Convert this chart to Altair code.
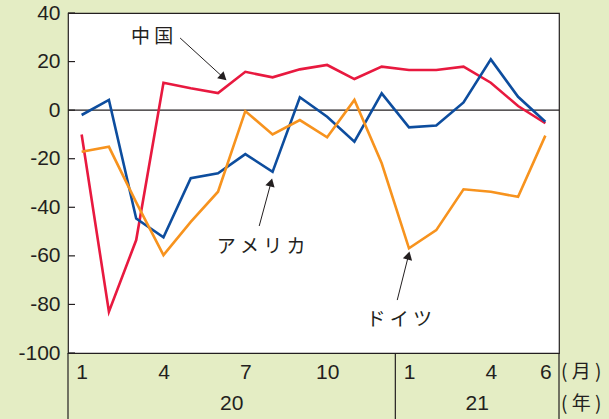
import altair as alt
import pandas as pd

# Monthly series, Jan 2020 .. Jun 2021 (index 0..17)
months = list(range(18))
china = [-10, -83, -53.5, 11.3, 9, 7, 15.8, 13.5, 16.8, 18.6, 12.8, 17.9,
         16.5, 16.5, 17.9, 11.3, 1.7, -5.4]
usa = [-2, 4.2, -44.6, -52.4, -28, -26, -18.1, -25.4, 5.3, -2.7, -13, 6.9,
       -7.1, -6.3, 3.2, 20.9, 5.5, -4.8]
germany = [-17.1, -15.1, -38, -59.7, -46, -33.6, -0.4, -10, -4.1, -11.2, 4.2, -21.9,
           -56.9, -49.4, -32.6, -33.6, -35.7, -10.5]

series_names = ["中国", "アメリカ", "ドイツ"]
series_colors = ["#E8193F", "#0D4D9E", "#F7931E"]

y_ticks = [-100, -80, -60, -40, -20, 0, 20, 40]
month_tick_idx = [0, 3, 6, 9, 12, 15, 17]
year_labels = ["20", "21"]
year_centers = [5.5, 14.5]
year_dividers = [-0.5, 11.5, 17.5]
unit_labels = ["( 月 )", "( 年 )"]

# Annotation labels and arrows (data coordinates)
ann_text = ["中 国", "ア メ リ カ", "ド イ ツ"]
ann_x = [2.58, 6.58, 11.64]
ann_y = [30.1, -56.4, -86.4]
arrow_x0 = [3.61, 6.51, 11.57]
arrow_y0 = [29.7, -47.7, -78.2]
arrow_x1 = [5.16, 6.93, 11.97]
arrow_y1 = [13.8, -30.3, -60.4]
arrow_angle = [132, 15, 14]

BG = "#E4EDC4"
INK = "#231F20"
W, H = 491, 340

rows = []
for name, vals in zip(series_names, [china, usa, germany]):
    for m, v in zip(months, vals):
        rows.append({"m": m, "v": v, "s": name})
df = pd.DataFrame(rows)

xs = alt.Scale(domain=[-0.5, 17.5], nice=False, zero=False)
ys = alt.Scale(domain=[-100, 40], nice=False, zero=False)

lines = alt.Chart(df).mark_line(strokeWidth=2.6, strokeJoin="miter").encode(
    x=alt.X("m:Q", scale=xs,
            axis=alt.Axis(values=month_tick_idx, title=None, ticks=False, domain=False,
                          grid=False, labelFontSize=21, labelColor=INK,
                          labelFont="Liberation Sans", labelPadding=8,
                          labelExpr="datum.value < 12 ? datum.value + 1 : datum.value - 11")),
    y=alt.Y("v:Q", scale=ys,
            axis=alt.Axis(values=y_ticks, title=None, ticks=False, domain=False,
                          grid=False, labelFontSize=21, labelColor=INK,
                          labelFont="Liberation Sans", labelPadding=8,
                          labelExpr="datum.value < 0 ? '-' + abs(datum.value) : '' + datum.value")),
    color=alt.Color("s:N", scale=alt.Scale(domain=series_names, range=series_colors),
                    legend=None),
    detail="s:N",
)

zero_line = alt.Chart(pd.DataFrame({"y": [0]})).mark_rule(
    color=INK, strokeWidth=1.2).encode(y=alt.Y("y:Q", scale=ys))

tick_df = pd.DataFrame({"y": y_ticks})
inner_ticks = alt.Chart(tick_df).mark_rule(color=INK, strokeWidth=1.2).encode(
    y=alt.Y("y:Q", scale=ys), x=alt.value(0), x2=alt.value(7))

div_df = pd.DataFrame({"x": year_dividers})
dividers = alt.Chart(div_df).mark_rule(color=INK, strokeWidth=1.2).encode(
    x=alt.X("x:Q", scale=xs), y=alt.value(H), y2=alt.value(H + 66))

year_df = pd.DataFrame({"x": year_centers, "t": year_labels})
years = alt.Chart(year_df).mark_text(
    fontSize=21, font="Liberation Sans", color=INK, baseline="middle").encode(
    x=alt.X("x:Q", scale=xs), y=alt.value(H + 51), text="t:N")

unit_df = pd.DataFrame({"t": unit_labels, "yy": [H + 19, H + 51]})
units = alt.Chart(unit_df).mark_text(
    fontSize=19, font="Noto Sans CJK JP", color=INK, baseline="middle", align="left").encode(
    x=alt.value(W + 2), y=alt.Y("yy:Q", scale=None), text="t:N")

ann_df = pd.DataFrame({"x": ann_x, "y": ann_y, "t": ann_text})
labels = alt.Chart(ann_df).mark_text(
    fontSize=19, font="Noto Sans CJK JP", color=INK, baseline="middle").encode(
    x=alt.X("x:Q", scale=xs), y=alt.Y("y:Q", scale=ys), text="t:N")

arr_df = pd.DataFrame({"x0": arrow_x0, "y0": arrow_y0, "x1": arrow_x1,
                       "y1": arrow_y1, "a": arrow_angle})
shafts = alt.Chart(arr_df).mark_rule(color=INK, strokeWidth=1).encode(
    x=alt.X("x0:Q", scale=xs), y=alt.Y("y0:Q", scale=ys),
    x2="x1:Q", y2="y1:Q")
heads = alt.Chart(arr_df).mark_point(
    shape="triangle", filled=True, color=INK, size=90, opacity=1).encode(
    x=alt.X("x1:Q", scale=xs), y=alt.Y("y1:Q", scale=ys),
    angle=alt.Angle("a:Q", scale=None))

chart = alt.layer(
    zero_line, inner_ticks, lines, shafts, heads, labels, dividers, years, units
).properties(
    width=W, height=H, background=BG,
    padding={"left": 68, "top": 13, "right": 50, "bottom": 66},
    autosize=alt.AutoSizeParams(type="none"),
).configure_view(
    fill="white", stroke=INK, strokeWidth=1.2
)

chart.save("out.html", embed_options={"renderer": "svg", "actions": False})
